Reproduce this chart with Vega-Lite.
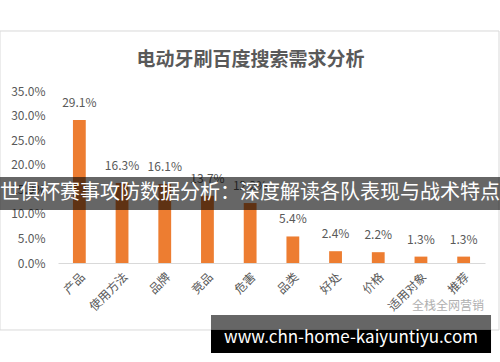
{
  "$schema": "https://vega.github.io/schema/vega-lite/v6.json",
  "width": 427,
  "height": 172,
  "autosize": "none",
  "padding": {"left": 58, "top": 91, "right": 15, "bottom": 99},
  "background": "white",
  "config": {"view": {"stroke": null}, "font": "Noto Sans CJK SC"},
  "title": {"text": "电动牙刷百度搜索需求分析", "fontSize": 19, "fontWeight": "bold", "color": "#595959", "dx": -21, "offset": -40, "frame": "group", "font": "Noto Sans CJK SC"},
  "datasets": {
    "bars": [
      {"cat": "产品", "v": 0.291, "lab": "29.1%"},
      {"cat": "使用方法", "v": 0.163, "lab": "16.3%"},
      {"cat": "品牌", "v": 0.161, "lab": "16.1%"},
      {"cat": "竞品", "v": 0.137, "lab": "13.7%"},
      {"cat": "危害", "v": 0.122, "lab": "12.2%"},
      {"cat": "品类", "v": 0.054, "lab": "5.4%"},
      {"cat": "好处", "v": 0.024, "lab": "2.4%"},
      {"cat": "价格", "v": 0.022, "lab": "2.2%"},
      {"cat": "适用对象", "v": 0.013, "lab": "1.3%"},
      {"cat": "推荐", "v": 0.013, "lab": "1.3%"}
    ],
    "frame": [{"x1": -0.1358, "x2": 1.0328, "y1": 0.4721, "y2": -0.1363}],
    "shades": [
      {"x1": -0.1358, "x2": 1.0351, "y1": 0.175, "y2": 0.1078, "c": "#000000", "o": 0.6},
      {"x1": 0.3583, "x2": 1.0141, "y1": -0.1058, "y2": -0.1363, "c": "#000000", "o": 0.6},
      {"x1": 0.3583, "x2": 1.0141, "y1": -0.1363, "y2": -0.1831, "c": "#000000", "o": 1}
    ],
    "texts": [
      {"x": 0.4496, "y": 0.1424, "t": "世俱杯赛事攻防数据分析：深度解读各队表现与战术特点", "s": 20, "c": "#ffffff", "w": "bold"},
      {"x": 0.6862, "y": -0.1526, "t": "www.chn-home-kaiyuntiyu.com", "s": 17, "c": "#ffffff", "w": "bold"},
      {"x": 0.9133, "y": -0.0875, "t": "全栈全网营销", "s": 12, "c": "#b0b0b0", "w": "normal"}
    ]
  },
  "layer": [
    {
      "data": {"name": "frame"},
      "mark": {"type": "rect", "fill": null, "stroke": "#d9d9d9", "strokeWidth": 1, "clip": false},
      "encoding": {
        "x": {"field": "x1", "type": "quantitative", "scale": {"domain": [0, 1], "nice": false, "zero": false}, "axis": null},
        "x2": {"field": "x2"},
        "y": {"field": "y1", "type": "quantitative", "scale": {"domain": [0, 0.35], "nice": false},
          "axis": {"title": null, "values": [0, 0.05, 0.1, 0.15, 0.2, 0.25, 0.3, 0.35], "format": ".1%", "labelColor": "#595959", "labelFontSize": 12, "domain": false, "ticks": false, "grid": false, "labelPadding": 13, "labelOverlap": false}},
        "y2": {"field": "y2"}
      }
    },
    {
      "layer": [
        {
          "data": {"name": "bars"},
          "mark": {"type": "bar", "color": "#ED7D31"},
          "encoding": {
            "x": {"field": "cat", "type": "nominal", "sort": null, "scale": {"paddingInner": 0.7, "paddingOuter": 0.35},
              "axis": {"title": null, "labelAngle": -45, "labelColor": "#595959", "labelFontSize": 12, "domainColor": "#d9d9d9", "ticks": false, "labelPadding": 8}},
            "y": {"field": "v", "type": "quantitative", "scale": {"domain": [0, 0.35], "nice": false},
              "axis": {"title": null, "values": [0, 0.05, 0.1, 0.15, 0.2, 0.25, 0.3, 0.35], "format": ".1%", "labelColor": "#595959", "labelFontSize": 12, "domain": false, "ticks": false, "grid": false, "labelPadding": 13, "labelOverlap": false}}
          }
        },
        {
          "data": {"name": "bars"},
          "mark": {"type": "text", "color": "#595959", "fontSize": 12, "dy": -10, "baseline": "bottom"},
          "encoding": {
            "x": {"field": "cat", "type": "nominal", "sort": null},
            "y": {"field": "v", "type": "quantitative",
              "axis": {"title": null, "values": [0, 0.05, 0.1, 0.15, 0.2, 0.25, 0.3, 0.35], "format": ".1%", "labelColor": "#595959", "labelFontSize": 12, "domain": false, "ticks": false, "grid": false, "labelPadding": 13, "labelOverlap": false}},
            "text": {"field": "lab"}
          }
        }
      ]
    },
    {
      "data": {"name": "shades"},
      "mark": {"type": "rect", "clip": false},
      "encoding": {
        "x": {"field": "x1", "type": "quantitative", "scale": {"domain": [0, 1], "nice": false, "zero": false}, "axis": null},
        "x2": {"field": "x2"},
        "y": {"field": "y1", "type": "quantitative", "scale": {"domain": [0, 0.35], "nice": false},
          "axis": {"title": null, "values": [0, 0.05, 0.1, 0.15, 0.2, 0.25, 0.3, 0.35], "format": ".1%", "labelColor": "#595959", "labelFontSize": 12, "domain": false, "ticks": false, "grid": false, "labelPadding": 13, "labelOverlap": false}},
        "y2": {"field": "y2"},
        "color": {"field": "c", "type": "nominal", "scale": null},
        "opacity": {"field": "o", "type": "quantitative", "scale": null}
      }
    },
    {
      "data": {"name": "texts"},
      "mark": {"type": "text", "baseline": "middle", "align": "center", "clip": false},
      "encoding": {
        "x": {"field": "x", "type": "quantitative", "scale": {"domain": [0, 1], "nice": false, "zero": false}, "axis": null},
        "y": {"field": "y", "type": "quantitative", "scale": {"domain": [0, 0.35], "nice": false},
          "axis": {"title": null, "values": [0, 0.05, 0.1, 0.15, 0.2, 0.25, 0.3, 0.35], "format": ".1%", "labelColor": "#595959", "labelFontSize": 12, "domain": false, "ticks": false, "grid": false, "labelPadding": 13, "labelOverlap": false}},
        "text": {"field": "t"},
        "size": {"field": "s", "type": "quantitative", "scale": null},
        "color": {"field": "c", "type": "nominal", "scale": null},
        "fontWeight": {"field": "w", "type": "nominal", "scale": null}
      }
    }
  ],
  "resolve": {"scale": {"x": "independent"}}
}
